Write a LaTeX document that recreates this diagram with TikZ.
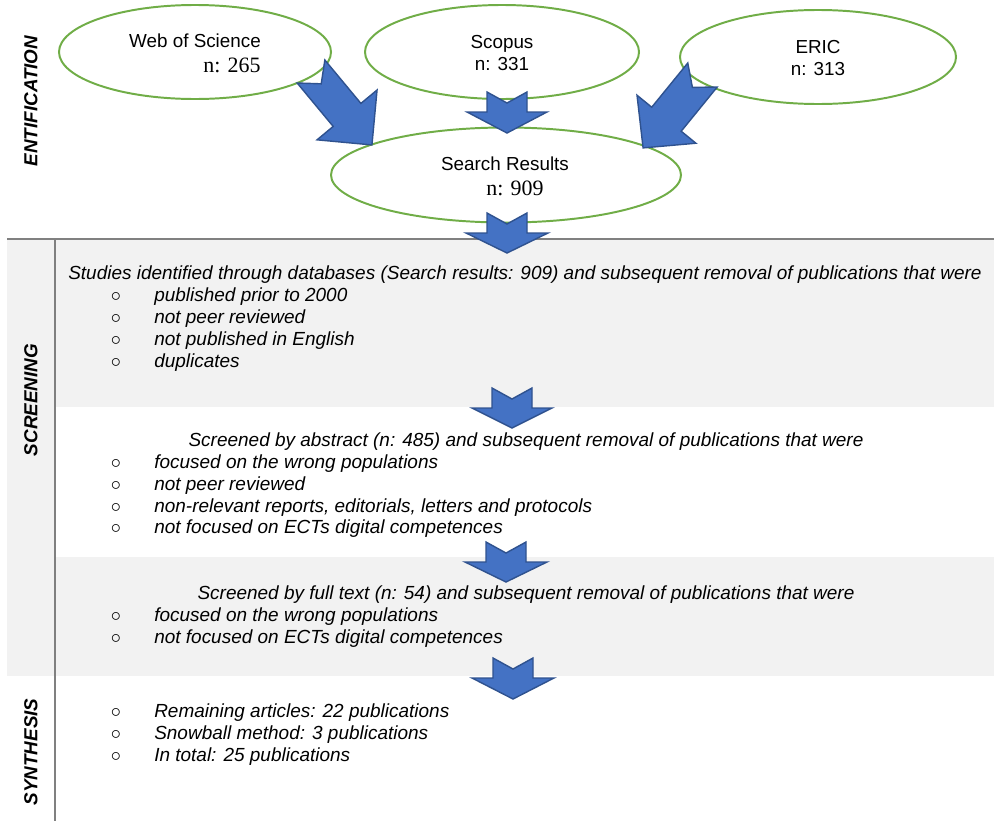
\documentclass[tikz,border=0pt]{standalone}
\usepackage{fontspec}
\setmainfont{Liberation Sans}
\newfontfamily\serifnum{Liberation Serif}
\usetikzlibrary{calc}
\usetikzlibrary {shapes.geometric}

\definecolor{dbgreen}{HTML}{70AD47}
\definecolor{arrowblue}{HTML}{4472C4}
\definecolor{arrowedge}{HTML}{2F528F}
\definecolor{bandgray}{HTML}{F2F2F2}
\definecolor{rulegray}{HTML}{808080}

\tikzset{
  blockarrow/.style={draw=arrowedge, fill=arrowblue, line width=1pt},
}

% tail, tip, half shaft, notch, head length, half head
\newcommand{\fatarrow}[6]{%
  \draw[blockarrow] let \p1=(#1), \p2=(#2),
      \n1={atan2(\y2-\y1,\x2-\x1)}, \n2={scalar(veclen(\x2-\x1,\y2-\y1))/0.7113}
    in {[shift={(\p1)}, rotate=\n1]
    (0,#3) -- (#4,0) -- (0,-#3) -- (\n2-#5,-#3) -- (\n2-#5,-#6) -- (\n2,0)
    -- (\n2-#5,#6) -- (\n2-#5,#3) -- cycle};
}

\begin{document}
\begin{tikzpicture}[x=0.25mm, y=-0.25mm,
    db/.style={ellipse, draw=dbgreen, line width=1.4pt, inner sep=0pt},
    dbtext/.style={anchor=base, font=\fontsize{13.4}{16}\selectfont},
    numtext/.style={anchor=base, font=\serifnum\fontsize{15.6}{18}\selectfont},
    phase/.style={rotate=90, font=\bfseries\itshape\fontsize{13.4}{16}\selectfont},
    line/.style={anchor=base west, inner sep=0pt, font=\itshape\fontsize{13.5}{16}\selectfont},
    head/.style={anchor=base, inner sep=0pt, font=\itshape\fontsize{13.5}{16}\selectfont},
    bull/.style={anchor=base, inner sep=0pt, font=\fontsize{13.4}{16}\selectfont},
    rule/.style={draw=rulegray, line width=1.5pt}]

    \useasboundingbox (0,0) rectangle (994,821);

    % background bands and rules
    \fill[bandgray] (7,240) rectangle (55,676);
    \fill[bandgray] (55,240) rectangle (994,407);
    \fill[bandgray] (55,557) rectangle (994,676);
    \draw[rule] (7,239) -- (994,239);
    \draw[rule] (55,239) -- (55,821);

    % phases
    \node[phase] (ident) at (31,101) {ENTIFICATION};
    \node[phase] (screen) at (31,400) {SCREENING};
    \node[phase] (synth) at (31,752) {SYNTHESIS};

    % databases
    \path   (195,52) node (wos) [db, minimum width=68mm, minimum height=23.5mm] {}
            (502,52) node (scopus) [db, minimum width=68.5mm, minimum height=23.5mm] {}
            (818,57) node (eric) [db, minimum width=69mm, minimum height=23.5mm] {}
            (506,175) node (results) [db, minimum width=87.5mm, minimum height=23.75mm] {};

    \path   (195,47) node (wos-t) [dbtext] {Web of Science}
            (232,72) node (wos-n) [numtext] {n: 265}
            (502,48) node (scopus-t) [dbtext] {Scopus}
            (502,70) node (scopus-n) [dbtext] {n: 331}
            (818,53) node (eric-t) [dbtext] {ERIC}
            (818,75) node (eric-n) [dbtext] {n: 313}
            (505,170) node (results-t) [dbtext] {Search Results}
            (515,195) node (results-n) [numtext] {n: 909};

    % screening text
    \path   (68,279) node (s1) [line] {Studies identified through databases (Search results: 909) and subsequent removal of publications that were}
            (154,301) node (s1a) [line] {published prior to 2000}
            (154,323) node (s1b) [line] {not peer reviewed}
            (154,345) node (s1c) [line] {not published in English}
            (154,367) node (s1d) [line] {duplicates};
    \path   (526,446) node (s2) [head] {Screened by abstract (n: 485) and subsequent removal of publications that were}
            (154,468) node (s2a) [line] {focused on the wrong populations}
            (154,490) node (s2b) [line] {not peer reviewed}
            (154,512) node (s2c) [line] {non-relevant reports, editorials, letters and protocols}
            (154,533) node (s2d) [line] {not focused on ECTs digital competences};
    \path   (526,599) node (s3) [head] {Screened by full text (n: 54) and subsequent removal of publications that were}
            (154,621) node (s3a) [line] {focused on the wrong populations}
            (154,643) node (s3b) [line] {not focused on ECTs digital competences};
    \path   (154,717) node (y1) [line] {Remaining articles: 22 publications}
            (154,739) node (y2) [line] {Snowball method: 3 publications}
            (154,761) node (y3) [line] {In total: 25 publications};

    \foreach \yy/\nm in {301/s1a,323/s1b,345/s1c,367/s1d,468/s2a,490/s2b,512/s2c,533/s2d,621/s3a,643/s3b,717/y1,739/y2,761/y3}
        \node[bull] (o-\nm) at (116,\yy) {$\circ$};

    % arrows
    \coordinate (wos-tail) at (311,71.5);
    \coordinate (wos-tip) at (372,145);
    \coordinate (scopus-tail) at (507,92);
    \coordinate (scopus-tip) at (507,133);
    \coordinate (eric-tail) at (702.5,75);
    \coordinate (eric-tip) at (643,148);
    \coordinate (results-tail) at (507,213);
    \coordinate (results-tip) at (507,253);
    \coordinate (s1-tail) at (512,388);
    \coordinate (s1-tip) at (512,428);
    \coordinate (s2-tail) at (506,542);
    \coordinate (s2-tip) at (506,582);
    \coordinate (s3-tail) at (513,658);
    \coordinate (s3-tip) at (513,699);

    \fatarrow{wos-tail}{wos-tip}{18}{16}{39}{39}
    \fatarrow{eric-tail}{eric-tip}{19}{16}{37}{38}
    \fatarrow{scopus-tail}{scopus-tip}{20}{11}{21}{40}
    \fatarrow{results-tail}{results-tip}{20}{11}{20}{41}
    \fatarrow{s1-tail}{s1-tip}{20}{11}{20}{40}
    \fatarrow{s2-tail}{s2-tip}{20}{11}{20}{41}
    \fatarrow{s3-tail}{s3-tip}{20}{11}{21}{41}

\end{tikzpicture}
\end{document}
